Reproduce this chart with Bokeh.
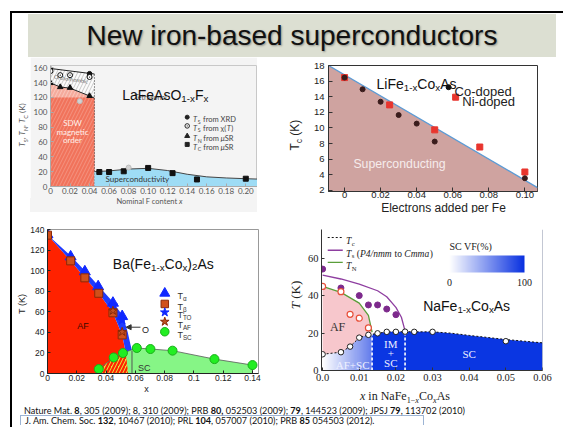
import numpy as np
from bokeh.plotting import figure
from bokeh.layouts import column, row
from bokeh.models import (Div, Range1d, Label, FixedTicker, ColorBar,
                          LinearColorMapper, Arrow, NormalHead, Span)
from bokeh.embed import file_html
from bokeh.resources import INLINE

# ---------------- LaFeAsO1-xFx ----------------
la_ts_xrd_x = [0.0, 0.04]
la_ts_xrd_y = [158.0, 152.0]
la_ts_chi_x = [0.0, 0.01, 0.02, 0.04]
la_ts_chi_y = [155.5, 150.0, 150.0, 147.5]
la_tn_x = [0.0, 0.01, 0.02, 0.04]
la_tn_y = [139.5, 134.0, 133.0, 122.0]
la_tc_x = [0.05, 0.06, 0.075, 0.10, 0.125, 0.15, 0.20]
la_tc_y = [19.5, 19.5, 20.5, 25.0, 18.0, 9.5, 10.5]
la_grey_x = [0.03, 0.08]
la_grey_y = [115.0, 25.5]
la_ts_line_x = [0.0, 0.045]
la_ts_line_y = [159.0, 151.5]
la_tn_line_x = [0.0, 0.01, 0.02, 0.04, 0.045]
la_tn_line_y = [139.5, 134.0, 132.5, 122.0, 119.0]
la_sdw_edge = 0.045
la_sdw_top = 120.0
la_sc_x = [0.045, 0.06, 0.08, 0.10, 0.12, 0.14, 0.16, 0.18, 0.20, 0.212]
la_sc_y = [20.0, 21.0, 23.5, 24.5, 21.5, 16.5, 13.0, 11.5, 10.5, 10.0]
la_xticks = [0, 0.02, 0.04, 0.06, 0.08, 0.10, 0.12, 0.14, 0.16, 0.18, 0.20]
la_xtick_labels = ["0", "0.02", "0.04", "0.06", "0.08", "0.10", "0.12",
                   "0.14", "0.16", "0.18", "0.20"]
la_yticks = [0, 20, 40, 60, 80, 100, 120, 140, 160]

# ---------------- LiFe1-xCoxAs ----------------
li_co_x = [0.0, 0.01, 0.02, 0.03, 0.04, 0.05, 0.10]
li_co_y = [16.45, 14.95, 13.35, 11.65, 10.55, 8.25, 3.55]
li_ni_x = [0.0, 0.025, 0.05, 0.075, 0.10]
li_ni_y = [16.45, 12.95, 9.75, 7.55, 4.35]
li_bound_x = [-0.0089, 0.107]
li_bound_y = [18.0, 2.35]
li_xticks = [0, 0.02, 0.04, 0.06, 0.08, 0.10]
li_xtick_labels = ["0", "0.02", "0.04", "0.06", "0.08", "0.10"]
li_yticks = [2, 4, 6, 8, 10, 12, 14, 16, 18]

# ---------------- Ba(Fe1-xCox)2As ----------------
ba_ta_x = [0.0, 0.0158, 0.0255, 0.0346, 0.0447, 0.051]
ba_ta_y = [135.0, 113.5, 99.0, 84.5, 68.5, 55.5]
ba_tb_x = [0.0, 0.0158, 0.0255, 0.035, 0.0447, 0.051]
ba_tb_y = [134.5, 109.5, 93.0, 78.0, 59.0, 37.5]
ba_tto_x = [0.0447, 0.051]
ba_tto_y = [66.0, 52.0]
ba_taf_x = [0.0447, 0.051]
ba_taf_y = [61.0, 40.5]
ba_tsc_x = [0.035, 0.0452, 0.0515, 0.061, 0.0703, 0.0854, 0.114, 0.14]
ba_tsc_y = [4.3, 15.6, 19.9, 24.8, 23.8, 22.2, 14.0, 8.2]
ba_af_x = [0.0, 0.0158, 0.0255, 0.035, 0.0447, 0.051, 0.0535, 0.055]
ba_af_y = [135.0, 109.5, 93.0, 78.0, 59.0, 37.5, 20.0, 0.0]
ba_band_x = [0.0, 0.0158, 0.0255, 0.0346, 0.0447, 0.0515, 0.0548, 0.0567, 0.0577]
ba_band_y = [135.0, 114.5, 100.0, 85.5, 69.5, 56.0, 40.0, 28.0, 22.0]
ba_dome_x = [0.033, 0.035, 0.0452, 0.0515, 0.0555, 0.061, 0.0703, 0.0854, 0.114, 0.14]
ba_dome_y = [0.0, 4.3, 15.6, 19.9, 22.0, 24.8, 23.8, 22.2, 14.0, 8.2]
ba_ortho_x = 0.0577
ba_xticks = [0, 0.02, 0.04, 0.06, 0.08, 0.10, 0.12, 0.14]
ba_xtick_labels = ["0", "0.02", "0.04", "0.06", "0.08", "0.1", "0.12", "0.14"]
ba_yticks = [0, 20, 40, 60, 80, 100, 120, 140]

# ---------------- NaFe1-xCoxAs ----------------
na_ts_x = [0.0, 0.005, 0.01, 0.0125, 0.015, 0.0175, 0.02]
na_ts_y = [54.3, 44.2, 40.1, 35.1, 35.1, 32.9, 29.9]
na_tn_x = [0.0, 0.005, 0.0075, 0.01, 0.0125]
na_tn_y = [45.0, 42.2, 30.1, 28.0, 22.8]
na_tc_x = [0.0, 0.005, 0.0075, 0.01, 0.0125, 0.015, 0.0175, 0.02, 0.0225, 0.025, 0.03, 0.05]
na_tc_y = [8.7, 9.8, 12.8, 17.6, 19.1, 19.9, 20.7, 20.7, 20.8, 20.7, 20.7, 15.7]
na_tc_curve_x = [0.0, 0.005, 0.0075, 0.01, 0.0125, 0.0135, 0.015, 0.0175, 0.02,
                 0.0225, 0.025, 0.03, 0.035, 0.04, 0.045, 0.05, 0.055, 0.06]
na_tc_curve_y = [8.7, 9.8, 12.8, 17.6, 19.1, 19.4, 19.9, 20.7, 20.7,
                 20.8, 20.7, 20.7, 20.0, 18.8, 17.7, 16.6, 15.7, 14.8]
na_ts_curve_x = [0.0, 0.005, 0.01, 0.015, 0.0175, 0.02, 0.0215, 0.0225]
na_ts_curve_y = [51.1, 49.0, 46.3, 42.7, 39.5, 33.8, 28.5, 21.2]
na_tn_curve_x = [0.0, 0.005, 0.01, 0.0125, 0.0135]
na_tn_curve_y = [45.0, 41.8, 36.1, 29.5, 20.5]
na_af_sc_edge = 0.0135
na_im_sc_edge = 0.0225
na_xticks = [0, 0.01, 0.02, 0.03, 0.04, 0.05, 0.06]
na_xtick_labels = ["0.0", "0.01", "0.02", "0.03", "0.04", "0.05", "0.06"]
na_yticks = [0, 20, 40, 60]
vf_ticks = [0, 100]

# ---------------- text helpers ----------------
HELV = dict(zip("ABCDEFGHIJKLMNOPQRSTUVWXYZ",
                [.667, .667, .722, .722, .667, .611, .778, .722, .278, .5, .667, .556, .833,
                 .722, .778, .667, .778, .722, .667, .611, .722, .667, .944, .667, .667, .611]))
HELV.update(zip("abcdefghijklmnopqrstuvwxyz",
                [.556, .556, .5, .556, .556, .278, .556, .556, .222, .222, .5, .222, .833,
                 .556, .556, .556, .556, .333, .5, .278, .556, .5, .722, .5, .5, .5]))
HELV.update({d: .556 for d in "0123456789"})
HELV.update({" ": .278, "(": .333, ")": .333, ",": .278, "-": .333, ".": .278, "/": .278,
             "%": .889, "+": .584, "\u2212": .584, "\u03b1": .58, "\u03b2": .57,
             "\u03c7": .52, "\u00b5": .556})
TIMES = dict(zip("ABCDEFGHIJKLMNOPQRSTUVWXYZ",
                 [.722, .667, .667, .722, .611, .556, .722, .722, .333, .389, .722, .611, .889,
                  .722, .722, .556, .722, .667, .556, .611, .722, .722, .944, .722, .722, .611]))
TIMES.update(zip("abcdefghijklmnopqrstuvwxyz",
                 [.444, .5, .444, .5, .444, .333, .5, .5, .278, .278, .5, .278, .778,
                  .5, .5, .5, .5, .333, .389, .278, .5, .5, .722, .5, .5, .444]))
TIMES.update({d: .5 for d in "0123456789"})
TIMES.update({" ": .25, "(": .333, ")": .333, ",": .25, "-": .333, ".": .25, "/": .278,
              "%": .833, "+": .564, "\u2212": .564})


def rich(p, x, y, parts, size, font="Liberation Sans", color="#222", align="center",
         angle=0.0, dx=0.0, dy=0.0, serif=False, sub_scale=0.7):
    """Draw a line of text with subscripts as a run of labels centred on (x, y)."""
    table = TIMES if serif else HELV
    items = []
    for part in parts:
        if isinstance(part, str):
            part = (part,)
        text = part[0]
        sub = len(part) > 1 and bool(part[1])
        ital = len(part) > 2 and bool(part[2])
        fs = size * sub_scale if sub else size
        w = fs * sum(table.get(ch, 0.55) for ch in text)
        items.append((text.replace(" ", "\u00a0"), sub, ital, fs, w))
    total = sum(it[4] for it in items)
    adv = {"left": 0.0, "center": -total / 2.0, "right": -total}[align]
    for text, sub, ital, fs, w in items:
        drop = 0.35 * size + (0.25 * size if sub else 0.0)
        if angle == 0:
            xo, yo = dx + adv, dy - drop
        else:
            xo, yo = dx + drop, dy + adv
        p.add_layout(Label(x=x, y=y, text=text, x_offset=xo, y_offset=yo, angle=angle,
                           text_font=font, text_font_size=f"{fs:.2f}px", text_color=color,
                           text_font_style="italic" if ital else "normal",
                           text_align="left", text_baseline="alphabetic"))
        adv += w


def axis_title(width, height, cx, cy, html, size, font, color="#222", rotate=False,
               bg=None, bg_left=0):
    """A small HTML box holding an axis title centred on (cx, cy)."""
    tr = "translate(-50%,-50%)" + (" rotate(-90deg)" if rotate else "")
    back = ""
    if bg:
        back = (f'<div style="position:absolute;left:{bg_left}px;top:0;right:0;bottom:0;'
                f'background:{bg};"></div>')
    inner = (f'<div style="position:absolute;left:{cx}px;top:{cy}px;transform:{tr};'
             f"white-space:nowrap;font-family:{font};font-size:{size}px;color:{color};"
             f'line-height:1;">{html}</div>')
    return Div(width=width, height=height, margin=0,
               text=(f'<div style="position:relative;width:{width}px;height:{height}px;">'
                     f"{back}{inner}</div>"))


def sub(t):
    return f'<sub style="font-size:68%;line-height:0;">{t}</sub>'


def make_fig(width, height, xr, yr, left, right, top, bottom, bg="white"):
    p = figure(width=width, height=height, x_range=Range1d(*xr), y_range=Range1d(*yr),
               min_border_left=left, min_border_right=right,
               min_border_top=top, min_border_bottom=bottom,
               output_backend="svg", toolbar_location=None,
               background_fill_color=bg, border_fill_color=bg)
    p.grid.visible = False
    return p


def style_axes(p, font, size, color, line_color, xticks, xlabels, yticks,
               xstand=2, ystand=3, tick_in=3):
    for ax in list(p.xaxis) + list(p.yaxis):
        ax.axis_label = None
        ax.major_label_text_font = font
        ax.major_label_text_font_size = f"{size}px"
        ax.major_label_text_color = color
        ax.axis_line_color = line_color
        ax.major_tick_line_color = line_color
        ax.major_tick_in = tick_in
        ax.major_tick_out = 0
        ax.minor_tick_line_color = None
    p.xaxis.ticker = FixedTicker(ticks=xticks)
    p.xaxis.major_label_overrides = dict(zip(xticks, xlabels))
    p.yaxis.ticker = FixedTicker(ticks=yticks)
    p.xaxis.major_label_standoff = xstand
    p.yaxis.major_label_standoff = ystand


PANEL_GREY = "#f4f4f4"

# ================= LaFeAsO1-xFx =================
p1 = make_fig(227, 141, (0, 0.212), (0, 163), 15, 0, 8, 12, bg=PANEL_GREY)
p1.outline_line_color = "#c8c8c8"
style_axes(p1, "Lato", 8, "#555", "#aaaaaa", la_xticks, la_xtick_labels, la_yticks,
           xstand=1, ystand=3)

p1.patch([0.0] + la_tn_line_x + [la_sdw_edge], [0.0] + la_tn_line_y + [0.0],
         fill_color="#f5ab9c", line_color=None,
         hatch_pattern="/", hatch_color="white", hatch_alpha=0.35, hatch_scale=7)
p1.quad(left=0, right=la_sdw_edge, bottom=0, top=la_sdw_top,
        fill_color="#f1735b", line_color=None,
        hatch_pattern="/", hatch_color="white", hatch_alpha=0.22, hatch_scale=7)
p1.patch(la_ts_line_x + la_tn_line_x[::-1], la_ts_line_y + la_tn_line_y[::-1],
         fill_color="#fbfbfb", line_color=None,
         hatch_pattern="/", hatch_color="#bbbbbb", hatch_alpha=0.8, hatch_scale=7)
p1.line(la_ts_line_x, la_ts_line_y, line_color="#222", line_width=1)
p1.line(la_tn_line_x, la_tn_line_y, line_color="#222", line_width=1)
p1.line([la_sdw_edge, la_sdw_edge], [0, la_ts_line_y[-1]], line_color="#333",
        line_width=1, line_dash="1 2")
p1.patch([la_sc_x[0]] + la_sc_x + [la_sc_x[-1]], [0.0] + la_sc_y + [0.0],
         fill_color="#9edcf5", line_color=None)
p1.line(la_sc_x, la_sc_y, line_color="#444", line_width=1)

p1.scatter(la_ts_xrd_x, la_ts_xrd_y, marker="circle", size=4.5, color="#111")
p1.scatter(la_ts_chi_x, la_ts_chi_y, marker="circle_dot", size=5, fill_color="white",
           line_color="#111")
p1.scatter(la_tn_x, la_tn_y, marker="triangle", size=5.5, color="#111")
p1.scatter(la_tc_x, la_tc_y, marker="square", size=5, color="#111")
p1.scatter(la_grey_x, la_grey_y, marker="circle", size=5, fill_color="#d2d2d2",
           line_color="#bdbdbd")

for txt, yy in (("SDW", 86), ("magnetic", 74), ("order", 62)):
    p1.add_layout(Label(x=0.0225, y=yy, text=txt, text_font="Lato", text_font_size="8px",
                        text_color="#fff1ea", text_align="center", text_baseline="middle"))
p1.add_layout(Label(x=0.021, y=144.5, text="Orthorhombic", angle=-0.14, text_font="Lato",
                    text_font_size="5.5px", text_color="#666", text_align="center",
                    text_baseline="middle"))
p1.add_layout(Label(x=0.1025, y=120, text="Tetragonal", text_font="Lato", text_font_size="7px",
                    text_color="#555", text_align="center", text_baseline="middle"))
p1.add_layout(Label(x=0.089, y=9.5, text="Superconductivity", text_font="Lato",
                    text_font_size="8px", text_color="#333", text_align="center",
                    text_baseline="middle"))
rich(p1, 0.1175, 130, ["LaFeAsO", ("1-x", 1), "F", ("x", 1)], 14, color="#111")

la_leg_x = 0.14
la_leg_rows = [93.4, 81.6, 68.0, 56.7]
p1.scatter([la_leg_x], [la_leg_rows[0]], marker="circle", size=4, color="#222")
p1.scatter([la_leg_x], [la_leg_rows[1]], marker="circle_dot", size=4.5, fill_color="white",
           line_color="#222")
p1.scatter([la_leg_x], [la_leg_rows[2]], marker="triangle", size=5, color="#222")
p1.scatter([la_leg_x], [la_leg_rows[3]], marker="square", size=4, color="#222")
la_leg_texts = [
    [("T", 0, 1), ("S", 1), " from XRD"],
    [("T", 0, 1), ("S", 1), " from \u03c7(", ("T", 0, 1), ")"],
    [("T", 0, 1), ("N", 1), " from ", ("\u00b5", 0, 1), "SR"],
    [("T", 0, 1), ("C", 1), " from ", ("\u00b5", 0, 1), "SR"],
]
for parts, yy in zip(la_leg_texts, la_leg_rows):
    rich(p1, 0.146, yy, parts, 7.5, font="Lato", color="#444", align="left")

la_ylab = axis_title(18, 141, 10, 68,
                     f"<i>T</i>{sub('S')}, <i>T</i>{sub('N')}, <i>T</i>{sub('C')} (K)",
                     8, "Lato", color="#555", rotate=True)
la_xlab = axis_title(245, 14, 137.5, 4, "Nominal F content <i>x</i>", 7.5, "Lato",
                     color="#555", bg=PANEL_GREY, bg_left=18)
block_la = column(row(la_ylab, p1), la_xlab)

# ================= LiFe1-xCoxAs =================
p2 = make_fig(256, 145, (-0.0089, 0.107), (1.85, 18.0), 21, 26, 8, 11)
p2.outline_line_color = "#333"
style_axes(p2, "Liberation Sans", 9.5, "#222", "#333", li_xticks, li_xtick_labels, li_yticks,
           xstand=0, ystand=4, tick_in=4)
p2.patch(li_bound_x + [li_bound_x[1], li_bound_x[0]],
         li_bound_y + [p2.y_range.start, p2.y_range.start],
         fill_color="#cfa3a0", line_color=None)
p2.line(li_bound_x, li_bound_y, line_color="#5b9bd5", line_width=1.3)
p2.scatter(li_ni_x, li_ni_y, marker="square", size=6, color="#e8352e")
p2.scatter(li_co_x, li_co_y, marker="circle", size=5, color="#3a1c1c")
rich(p2, 0.0399, 16.2, ["LiFe", ("1-x", 1), "Co", ("x", 1), "As"], 14, color="#111")
p2.scatter([0.0577], [15.22], marker="circle", size=5, color="#111")
p2.scatter([0.0616], [13.94], marker="square", size=6, color="#e8352e")
rich(p2, 0.061, 15.22, ["Co-doped"], 13, color="#222", align="left")
rich(p2, 0.0653, 13.94, ["Ni-doped"], 13, color="#222", align="left")
rich(p2, 0.0305, 5.96, ["Superconducting"], 12.3, color="#f6ecec")

li_ylab = axis_title(50, 145, 38, 78, f"T{sub('c')} (K)", 12, "'Liberation Sans'",
                     rotate=True)
li_xlab = axis_title(306, 10, 186.5, 4, "Electrons added per Fe", 12, "'Liberation Sans'")
block_li = column(row(li_ylab, p2), li_xlab)

# ================= Ba(Fe1-xCox)2As =================
p3 = make_fig(255, 173, (0, 0.1441), (0, 140), 19, 24, 17, 12)
p3.outline_line_color = "#999"
style_axes(p3, "Liberation Sans", 8.5, "#222", "#222", ba_xticks, ba_xtick_labels, ba_yticks,
           xstand=1, ystand=3, tick_in=3)
p3.patch([0.0] + ba_af_x, [0.0] + ba_af_y, fill_color="#ff2200", line_color=None)
p3.patch(ba_band_x + ba_af_x[-2::-1], ba_band_y + ba_af_y[-2::-1],
         fill_color="#1f3cff", line_color=None)
p3.patch(ba_dome_x + [ba_dome_x[-1]], ba_dome_y + [0.0], fill_color="#86f586",
         line_color=None)
p3.patch(ba_dome_x[:4] + ba_af_x[-2:], ba_dome_y[:4] + ba_af_y[-2:],
         fill_color="#e6e640", line_color=None,
         hatch_pattern="/", hatch_color="#ff2200", hatch_weight=2.2, hatch_scale=7)
p3.line(ba_dome_x + [ba_dome_x[-1]], ba_dome_y + [0.0], line_color="#5a5a5a", line_width=0.8)
p3.line([ba_ortho_x, ba_ortho_x], [0, ba_band_y[-1]], line_color="#555", line_width=1)
p3.scatter(ba_ta_x, ba_ta_y, marker="triangle", size=11, color="#1028ff")
p3.scatter(ba_tto_x, ba_tto_y, marker="star", size=10, color="#1028ff")
p3.scatter(ba_tb_x, ba_tb_y, marker="square", size=8, fill_color="#d0501a", line_color="#8a2a08")
p3.scatter(ba_taf_x, ba_taf_y, marker="star", size=9, fill_color="#c05020", line_color="#8a2a08")
p3.scatter(ba_tsc_x, ba_tsc_y, marker="circle", size=9, fill_color="#22ee22",
           line_color="#18b018")
p3.add_layout(Arrow(end=NormalHead(size=5, fill_color="#333", line_color="#333"),
                    x_start=0.0635, y_start=45, x_end=0.0537, y_end=45,
                    line_color="#333", line_width=1))
rich(p3, 0.0645, 45, ["O"], 9, color="#222", align="left")
rich(p3, 0.0243, 49, ["AF"], 9, color="#3a0a00")
rich(p3, 0.066, 8.5, ["SC"], 9, color="#333")
rich(p3, 0.0791, 111.5, ["Ba(Fe", ("1-x", 1), "Co", ("x", 1), ")", ("2", 1), "As"], 14,
     color="#111")
ba_leg_x = 0.0801
ba_leg_rows = [78.0, 67.6, 59.5, 50.4, 40.6]
p3.scatter([ba_leg_x], [ba_leg_rows[0]], marker="triangle", size=10, color="#1028ff")
p3.scatter([ba_leg_x], [ba_leg_rows[1]], marker="square", size=7.5, fill_color="#d0501a",
           line_color="#8a2a08")
p3.scatter([ba_leg_x], [ba_leg_rows[2]], marker="star", size=9, color="#1028ff")
p3.scatter([ba_leg_x], [ba_leg_rows[3]], marker="star", size=9, fill_color="#c05020",
           line_color="#8a2a08")
p3.scatter([ba_leg_x], [ba_leg_rows[4]], marker="circle", size=8.5, fill_color="#22ee22",
           line_color="#18b018")
for s, yy in zip(["\u03b1", "\u03b2", "TO", "AF", "SC"], ba_leg_rows):
    rich(p3, 0.0887, yy, ["T", (s, 1)], 9, color="#333", align="left")

ba_ylab = axis_title(15, 173, 10, 92, "T (K)", 9, "'Liberation Sans'", rotate=True)
ba_xlab = axis_title(270, 21, 134.6, 4, "x", 9, "'Liberation Sans'")
block_ba = column(row(ba_ylab, p3), ba_xlab)

# ================= NaFe1-xCoxAs =================
p4 = make_fig(259, 175, (-0.0003, 0.06), (0, 75.5), 17, 21, 17, 17)
p4.outline_line_color = None
style_axes(p4, "Liberation Serif", 10.5, "#222", "#333", na_xticks, na_xtick_labels, na_yticks,
           xstand=3, ystand=3, tick_in=3)
p4.add_layout(Span(location=p4.x_range.end, dimension="height", line_color="#8890a8",
                   line_width=1))

white_rgb = np.array([255, 255, 255])
blue_rgb = np.array([8, 48, 224])
vf_palette = ["#%02x%02x%02x" % tuple(np.round(white_rgb + (blue_rgb - white_rgb) * t).astype(int))
              for t in np.linspace(0, 1, 256)]

# SC volume-fraction ramp inside the AF+SC region
ramp = np.zeros((1, 96), dtype=np.uint32)
ramp_view = ramp.view(dtype=np.uint8).reshape((1, 96, 4))
for i, t in enumerate(np.linspace(0.0, 0.64, 96)):
    ramp_view[0, i, :3] = np.round(white_rgb + (blue_rgb - white_rgb) * t).astype(np.uint8)
    ramp_view[0, i, 3] = 255
p4.image_rgba(image=[ramp], x=0, y=0, dw=na_af_sc_edge, dh=na_tn_curve_y[-1])
k = na_tc_curve_x.index(na_af_sc_edge)
p4.patch([na_af_sc_edge] + na_tc_curve_x[k:] + [na_tc_curve_x[-1]],
         [0.0] + na_tc_curve_y[k:] + [0.0], fill_color="#0a36e2", line_color=None)
p4.patch(na_tn_curve_x + na_tc_curve_x[k::-1], na_tn_curve_y + na_tc_curve_y[k::-1],
         fill_color="#f7c7cc", line_color=None)
for edge, top in ((na_af_sc_edge, na_tn_curve_y[-1]), (na_im_sc_edge, na_ts_curve_y[-1])):
    p4.line([edge, edge], [0, top], line_color="white", line_width=1.6, line_dash="3 2")
p4.line(na_tn_curve_x, na_tn_curve_y, line_color="#5a9e3a", line_width=1.3)
p4.line(na_ts_curve_x, na_ts_curve_y, line_color="#8e3ea0", line_width=1.3)
p4.line(na_tc_curve_x, na_tc_curve_y, line_color="#111", line_width=1, line_dash="2 2")
p4.scatter(na_ts_x, na_ts_y, marker="circle", size=6, color="#7d2a8c")
p4.scatter(na_tn_x, na_tn_y, marker="circle", size=6, fill_color="white", line_color="#e8503a",
           line_width=1.2)
p4.scatter(na_tc_x, na_tc_y, marker="circle", size=5.5, fill_color="white", line_color="#222")

rich(p4, 0.0041, 25.5, ["AF"], 12, font="Liberation Serif", serif=True, color="#333")
rich(p4, 0.0082, 5.0, ["AF+SC"], 11, font="Liberation Serif", serif=True, color="#eef0ff")
for txt, yy in (("IM", 16.0), ("+", 11.2), ("SC", 6.2)):
    rich(p4, 0.0186, yy, [txt], 11, font="Liberation Serif", serif=True, color="#eef0ff")
rich(p4, 0.04, 11.0, ["SC"], 11, font="Liberation Serif", serif=True, color="#eef0ff")
rich(p4, 0.0393, 36.9, ["NaFe", ("1-x", 1), "Co", ("x", 1), "As"], 14, color="#111")

na_leg_x = [0.0014, 0.0055]
na_leg_rows = [71.2, 64.4, 57.9]
p4.line(na_leg_x, [na_leg_rows[0]] * 2, line_color="#111", line_width=1, line_dash="2 2")
p4.line(na_leg_x, [na_leg_rows[1]] * 2, line_color="#8e3ea0", line_width=1.3)
p4.line(na_leg_x, [na_leg_rows[2]] * 2, line_color="#5a9e3a", line_width=1.3)
na_leg_texts = [
    [("T", 0, 1), ("c", 1)],
    [("T", 0, 1), ("s", 1), " (", ("P4/nmm", 0, 1), " to ", ("Cmma", 0, 1), ")"],
    [("T", 0, 1), ("N", 1)],
]
for parts, yy in zip(na_leg_texts, na_leg_rows):
    rich(p4, 0.0064, yy, parts, 9.5, font="Liberation Serif", serif=True, color="#222",
         align="left")

vf_mapper = LinearColorMapper(palette=vf_palette, low=vf_ticks[0], high=vf_ticks[-1])
vf_bar = ColorBar(color_mapper=vf_mapper, orientation="horizontal", location=(128, 82),
                  width=75, height=17, padding=0, margin=0,
                  title="SC VF(%)", title_text_font="Liberation Serif",
                  title_text_font_size="10px", title_text_font_style="normal",
                  title_text_color="#222", title_standoff=8,
                  ticker=FixedTicker(ticks=vf_ticks), major_label_text_font="Liberation Serif",
                  major_label_text_font_size="10px", major_label_text_color="#222",
                  label_standoff=6, major_tick_line_color=None, minor_tick_line_color=None,
                  bar_line_color=None, border_line_color=None, background_fill_alpha=0)
p4.add_layout(vf_bar, "center")

na_ylab = axis_title(22, 175, 13, 83, "<i>T</i> (K)", 13, "'Liberation Serif'", rotate=True)
na_xlab = axis_title(281, 19, 123, 9,
                     f"<i>x</i> in NaFe{sub('1&minus;<i>x</i>')}Co{sub('<i>x</i>')}As",
                     12, "'Liberation Serif'")
block_na = column(row(na_ylab, p4), na_xlab)

# ================= page furniture =================
header = Div(width=551, height=44, margin=0, text=(
    '<div style="margin-left:16px;margin-top:1px;width:528px;height:43px;background:#dcdfd2;'
    'display:flex;align-items:center;justify-content:center;'
    "font-family:'Liberation Sans',Arial,sans-serif;font-size:28px;color:#111;"
    'text-shadow:1px 1px 2px rgba(0,0,0,0.35);">New iron-based superconductors</div>'))

footer = Div(width=551, height=21, margin=0, text=(
    "<div style=\"font-family:Lato,sans-serif;font-size:9.1px;color:#111;line-height:9px;"
    "white-space:nowrap;\">"
    '<div style="padding-left:12px;">Nature Mat. <b>8</b>, 305 (2009); 8, 310 (2009); '
    'PRB <b>80,</b> 052503 (2009); <b>79</b>, 144523 (2009); JPSJ <b>79</b>, 113702 (2010)</div>'
    '<div style="margin-left:8px;width:404px;height:10px;border:1px solid #9cb4d4;'
    'border-bottom:none;padding-left:4px;">J. Am. Chem. Soc. <b>132</b>, 10467 (2010); '
    'PRL <b>104</b>, 057007 (2010); PRB <b>85</b> 054503 (2012).</div></div>'))

content = column(header, row(block_la, block_li), row(block_ba, block_na), footer)
top_rule = row(Div(width=10, height=2, margin=0),
               Div(width=553, height=2, margin=0, styles={"background-color": "#000"}))
body = row(Div(width=10, height=414, margin=0),
           Div(width=2, height=414, margin=0, styles={"background-color": "#000"}),
           content)
page = column(Div(width=563, height=11, margin=0), top_rule, body)

open("out.html", "w").write(file_html(page, INLINE))
